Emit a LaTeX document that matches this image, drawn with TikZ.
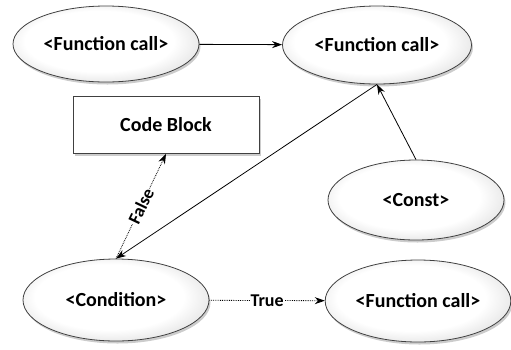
\documentclass[tikz,border=0pt]{standalone}
\usepackage{fontspec}
\setmainfont{Carlito}
\usetikzlibrary{arrows.meta,shapes.geometric,shadows}
\pgfdeclareradialshading{ovalshade}{\pgfpoint{-3bp}{3bp}}{color(0bp)=(white); color(20bp)=(white); color(28bp)=(gray!20); color(34bp)=(gray!50); color(50bp)=(gray!60)}
\pgfdeclareverticalshading{blockshade}{100bp}{color(0bp)=(gray!35); color(12bp)=(white); color(100bp)=(white)}

\begin{document}
\begin{tikzpicture}[x=1pt,y=-1pt,
    oval/.style={ellipse,draw=black!75,line width=0.8pt,shading=ovalshade,
      drop shadow={shadow xshift=1.5pt,shadow yshift=-2.5pt,opacity=0.4},font=\fontsize{20}{23}\selectfont\bfseries},
    block/.style={rectangle,draw=black!75,line width=0.8pt,shading=blockshade,
      drop shadow={shadow xshift=2pt,shadow yshift=-2.5pt,opacity=0.4},font=\fontsize{20}{23}\selectfont\bfseries},
    flow/.style={-{Stealth[length=10pt,width=7pt]},line width=0.8pt},
    cond/.style={flow,densely dotted},
    tag/.style={fill=white,inner sep=1pt,font=\fontsize{18}{21}\selectfont\bfseries}]
    \useasboundingbox (0,0) rectangle (511,349);
    \node[oval,minimum width=186pt,minimum height=76pt] (fcallA) at (106,44) {<Function call>};
    \node[oval,minimum width=189pt,minimum height=78pt] (fcallB) at (377,45) {<Function call>};
    \node[block,minimum width=186pt,minimum height=57pt] (code) at (166,125) {Code Block};
    \node[oval,minimum width=176pt,minimum height=80pt] (const) at (416,200) {<Const>};
    \node[oval,minimum width=186pt,minimum height=82pt] (condition) at (116,300) {<Condition>};
    \node[oval,minimum width=184pt,minimum height=82pt] (fcallC) at (418,301) {<Function call>};
    \draw[flow] (fcallA) -- (fcallB);
    \draw[flow] (const.north) -- (fcallB.south);
    \draw[flow] (fcallB.south) -- (condition.north);
    \draw[cond] (condition.north) -- node[tag,sloped] {False} (code.south);
    \draw[cond] (condition) -- node[tag] {True} (fcallC);
\end{tikzpicture}
\end{document}
